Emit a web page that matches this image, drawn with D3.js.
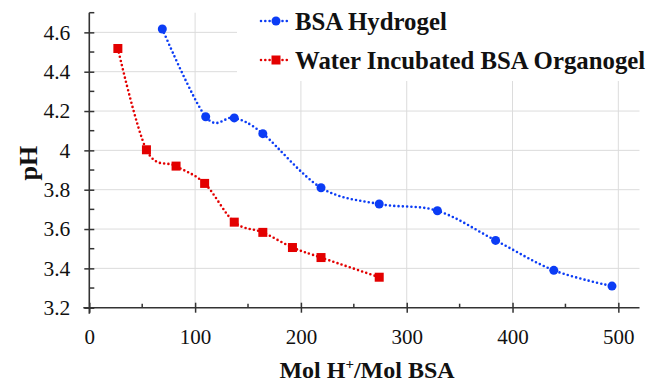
<!DOCTYPE html>
<html>
<head>
<meta charset="utf-8">
<script src="https://cdn.jsdelivr.net/npm/d3@7"></script>
<style>
  body { margin: 0; background: #fff; }
  text { font-family: "Liberation Serif", "Times New Roman", serif; }
</style>
</head>
<body>
<svg id="chart" width="651" height="384"></svg>
<script>
// data
const hydrogelX = [69, 110, 137, 164, 219, 274, 329, 384, 439, 494];
const hydrogelPH = [4.617, 4.171, 4.165, 4.085, 3.81, 3.727, 3.693, 3.542, 3.39, 3.31];
const organogelX = [27, 54, 82, 109, 137, 164, 192, 219, 274];
const organogelPH = [4.518, 4.003, 3.92, 3.832, 3.635, 3.583, 3.506, 3.455, 3.355];

const xTicks = [0, 100, 200, 300, 400, 500];
const xMinor = [50, 150, 250, 350, 450];
const yTicks = [3.2, 3.4, 3.6, 3.8, 4.0, 4.2, 4.4, 4.6];
const yMinor = [3.3, 3.5, 3.7, 3.9, 4.1, 4.3, 4.5, 4.7];

const seriesNames = ['BSA Hydrogel', 'Water Incubated BSA Organogel'];
const blue = '#0b3cf5', red = '#e30000';
const serif = '"Liberation Serif", "Times New Roman", serif';

const svg = d3.select('#chart');
const x = d3.scaleLinear().domain([0, 520]).range([89.3, 639.5]);
const y = d3.scaleLinear().domain([3.2, 4.7]).range([307.7, 12.7]);

// grid
const grid = svg.append('g').attr('stroke', '#dcdcdc').attr('stroke-width', 1);
grid.selectAll('.gx').data(xTicks.slice(1)).join('line')
    .attr('x1', d => x(d)).attr('x2', d => x(d))
    .attr('y1', y.range()[0]).attr('y2', y.range()[1]);
grid.selectAll('.gy').data(yTicks.slice(1)).join('line')
    .attr('x1', x.range()[0]).attr('x2', x.range()[1])
    .attr('y1', d => y(d)).attr('y2', d => y(d));

// legend box hides grid behind it
svg.append('rect').attr('x', 237).attr('y', 0).attr('width', 414).attr('height', 81).attr('fill', '#fff');

const axisColor = '#333';

// x axis
const gx = svg.append('g').attr('transform', `translate(0,${y(3.2)})`);
gx.call(d3.axisBottom(x).tickValues(xTicks).tickSize(5).tickPadding(0).tickFormat(d3.format('d')))
  .attr('font-family', serif)
  .call(g => g.select('.domain').remove())
  .call(g => g.selectAll('.tick line').attr('y1', -5).attr('y2', 5).attr('stroke', axisColor).attr('stroke-width', 1.5))
  .call(g => g.selectAll('.tick text').attr('y', 36).attr('dy', null)
      .attr('font-size', 21).attr('fill', '#111'));
gx.append('g').selectAll('line').data(xMinor).join('line')
  .attr('x1', d => x(d)).attr('x2', d => x(d)).attr('y1', -4).attr('y2', 0)
  .attr('stroke', axisColor).attr('stroke-width', 1.5);
gx.append('line').attr('x1', x(0) - 6).attr('x2', x.range()[1]).attr('stroke', axisColor).attr('stroke-width', 1.6);

// y axis
const gy = svg.append('g').attr('transform', `translate(${x(0)},0)`);
gy.call(d3.axisLeft(y).tickValues(yTicks).tickSize(5).tickPadding(14).tickFormat(d => String(+d.toFixed(1))))
  .attr('font-family', serif)
  .call(g => g.select('.domain').remove())
  .call(g => g.selectAll('.tick line').attr('x1', -5).attr('x2', 5).attr('stroke', axisColor).attr('stroke-width', 1.5))
  .call(g => g.selectAll('.tick text').attr('font-size', 21.5).attr('fill', '#111'));
gy.append('g').selectAll('line').data(yMinor).join('line')
  .attr('y1', d => y(d)).attr('y2', d => y(d)).attr('x1', 0).attr('x2', 5)
  .attr('stroke', axisColor).attr('stroke-width', 1.5);
gy.append('line').attr('y1', y.range()[1]).attr('y2', y(3.2) + 6).attr('stroke', axisColor).attr('stroke-width', 1.6);

// axis titles
const xl = svg.append('text').attr('x', 367).attr('y', 378).attr('text-anchor', 'middle')
  .attr('font-size', 24).attr('font-weight', 'bold').attr('fill', '#111');
xl.append('tspan').text('Mol H');
xl.append('tspan').text('+').attr('font-size', 15).attr('dy', -9);
xl.append('tspan').text('/Mol BSA').attr('dy', 9);

svg.append('text').attr('transform', `translate(37,${(y.range()[0] + y.range()[1]) / 2 + 3}) rotate(-90)`)
  .attr('text-anchor', 'middle').attr('font-size', 26).attr('font-weight', 'bold').attr('fill', '#111').text('pH');

// series
const line = d3.line().x(d => x(d[0])).y(d => y(d[1])).curve(d3.curveCardinal.tension(0));
const hydro = d3.zip(hydrogelX, hydrogelPH);
const organo = d3.zip(organogelX, organogelPH);

function dotted(sel, color) {
  return sel.attr('fill', 'none').attr('stroke', color).attr('stroke-width', 2.6)
    .attr('stroke-linecap', 'round').attr('stroke-dasharray', '0 4.3');
}

dotted(svg.append('path').attr('d', line(hydro)), blue);
dotted(svg.append('path').attr('d', line(organo)), red);

svg.append('g').selectAll('circle').data(hydro).join('circle')
  .attr('cx', d => x(d[0])).attr('cy', d => y(d[1])).attr('r', 4.5).attr('fill', blue);
svg.append('g').selectAll('rect').data(organo).join('rect')
  .attr('x', d => x(d[0]) - 4.5).attr('y', d => y(d[1]) - 4.5)
  .attr('width', 9).attr('height', 9).attr('fill', red);

// legend
const legendRows = [
  { name: seriesNames[0], color: blue, shape: 'circle', y: 21 },
  { name: seriesNames[1], color: red, shape: 'square', y: 60 }
];
const lg = svg.append('g');
legendRows.forEach(r => {
  dotted(lg.append('line').attr('x1', 261).attr('x2', 291).attr('y1', r.y).attr('y2', r.y), r.color);
  if (r.shape === 'circle') {
    lg.append('circle').attr('cx', 276).attr('cy', r.y).attr('r', 4.5).attr('fill', r.color);
  } else {
    lg.append('rect').attr('x', 271.5).attr('y', r.y - 4.5).attr('width', 9).attr('height', 9).attr('fill', r.color);
  }
  lg.append('text').attr('x', 295).attr('y', r.y + 9).attr('font-size', 24.8).attr('font-weight', 'bold')
    .attr('fill', '#111').text(r.name);
});
</script>
</body>
</html>
